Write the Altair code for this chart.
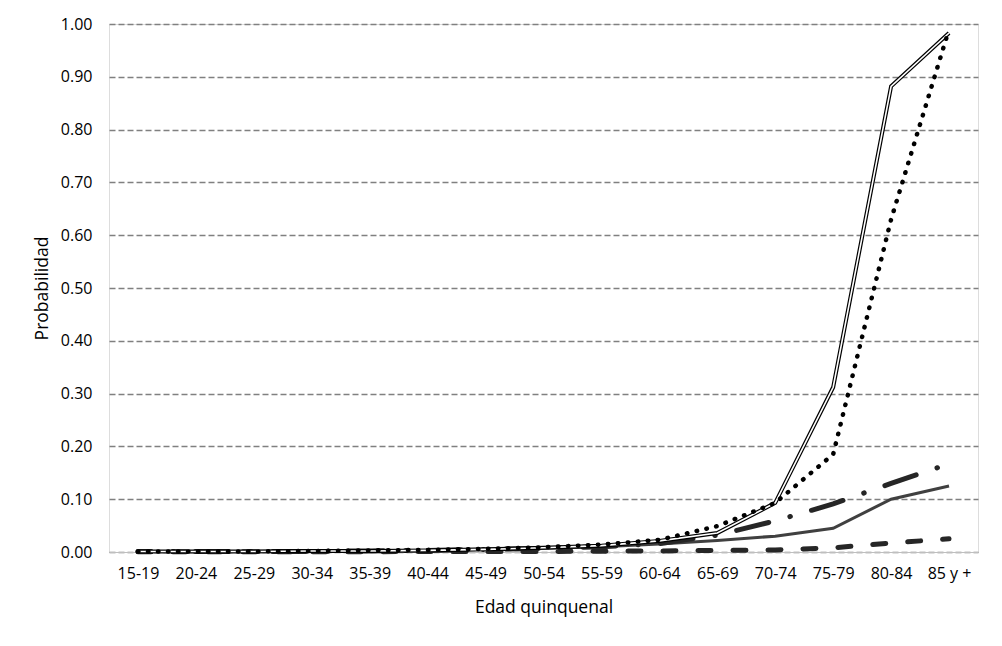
import altair as alt
import pandas as pd

cats = ["15-19", "20-24", "25-29", "30-34", "35-39", "40-44", "45-49", "50-54",
        "55-59", "60-64", "65-69", "70-74", "75-79", "80-84", "85 y +"]

s_double = [0.001, 0.001, 0.001, 0.002, 0.002, 0.003, 0.005, 0.008, 0.012, 0.021, 0.036, 0.093, 0.312, 0.882, 0.983]
s_dotted = [0.001, 0.001, 0.001, 0.002, 0.003, 0.004, 0.006, 0.009, 0.014, 0.023, 0.049, 0.093, 0.185, 0.63, 0.99]
s_dashdot = [0.001, 0.001, 0.001, 0.001, 0.002, 0.003, 0.005, 0.007, 0.010, 0.016, 0.032, 0.059, 0.091, 0.13, 0.167]
s_solid = [0.001, 0.001, 0.001, 0.002, 0.002, 0.003, 0.005, 0.007, 0.010, 0.015, 0.022, 0.030, 0.045, 0.100, 0.125]
s_dashed = [0.0005, 0.0005, 0.0005, 0.0005, 0.0005, 0.001, 0.001, 0.001, 0.0015, 0.002, 0.003, 0.004, 0.008, 0.017, 0.025]

series = {"double": s_double, "dotted": s_dotted, "dashdot": s_dashdot,
          "solid": s_solid, "dashed": s_dashed}
rows = []
for name, vals in series.items():
    for c, v in zip(cats, vals):
        rows.append({"edad": c, "p": v, "serie": name})
df = pd.DataFrame(rows)

FONT = "Open Sans"

x = alt.X("edad:N", sort=cats, scale=alt.Scale(type="point", padding=0.5),
          axis=alt.Axis(title="Edad quinquenal", labelAngle=0, ticks=False,
                        labelPadding=13, labelFontSize=16, labelColor="#000000",
                        labelFont=FONT, domainColor="#bfbfbf", domainWidth=1,
                        titleFont=FONT, titleFontSize=17.5, titleFontWeight="normal",
                        titleColor="#000000", titleY=55, titleBaseline="middle"))
y = alt.Y("p:Q", scale=alt.Scale(domain=[0, 1], nice=False),
          axis=alt.Axis(title="Probabilidad", format=".2f", values=[i / 10 for i in range(11)],
                        ticks=False, labelPadding=17, labelFontSize=16, labelColor="#000000",
                        labelFont=FONT, domain=False,
                        grid=True, gridColor="#808080", gridDash=[6, 3], gridWidth=1.5,
                        titleFont=FONT, titleFontSize=17.5, titleFontWeight="normal",
                        titleColor="#000000", titleAngle=-90, titleX=-67, titleY=264,
                        titleAlign="center", titleBaseline="middle"))

base = alt.Chart(df).encode(x=x, y=y)

def sel(name):
    return base.transform_filter(alt.datum.serie == name)

dashed = sel("dashed").mark_line(color="#262626", strokeWidth=5, strokeDash=[13, 22], strokeCap="round")
solid = sel("solid").mark_line(color="#404040", strokeWidth=3)
dashdot = sel("dashdot").mark_line(color="#262626", strokeWidth=5, strokeDash=[33, 22, 0.5, 22],
                                   strokeDashOffset=20, strokeCap="round")
dbl_outer = sel("double").mark_line(color="#000000", strokeWidth=4)
dbl_inner = sel("double").mark_line(color="#ffffff", strokeWidth=1.6)
dotted = sel("dotted").mark_line(color="#000000", strokeWidth=4.5, strokeDash=[0.5, 9.5], strokeCap="round")

chart = alt.layer(dashed, solid, dashdot, dbl_outer, dbl_inner, dotted).properties(
    width=869, height=528,
    autosize=alt.AutoSizeParams(type="none"),
    padding={"left": 101, "top": 16, "right": 16, "bottom": 80},
).configure_view(
    stroke="#808080", strokeDash=[6, 3], strokeWidth=1.5
).configure(background="white")

chart.save("out.html", embed_options={"renderer": "svg", "actions": False})
